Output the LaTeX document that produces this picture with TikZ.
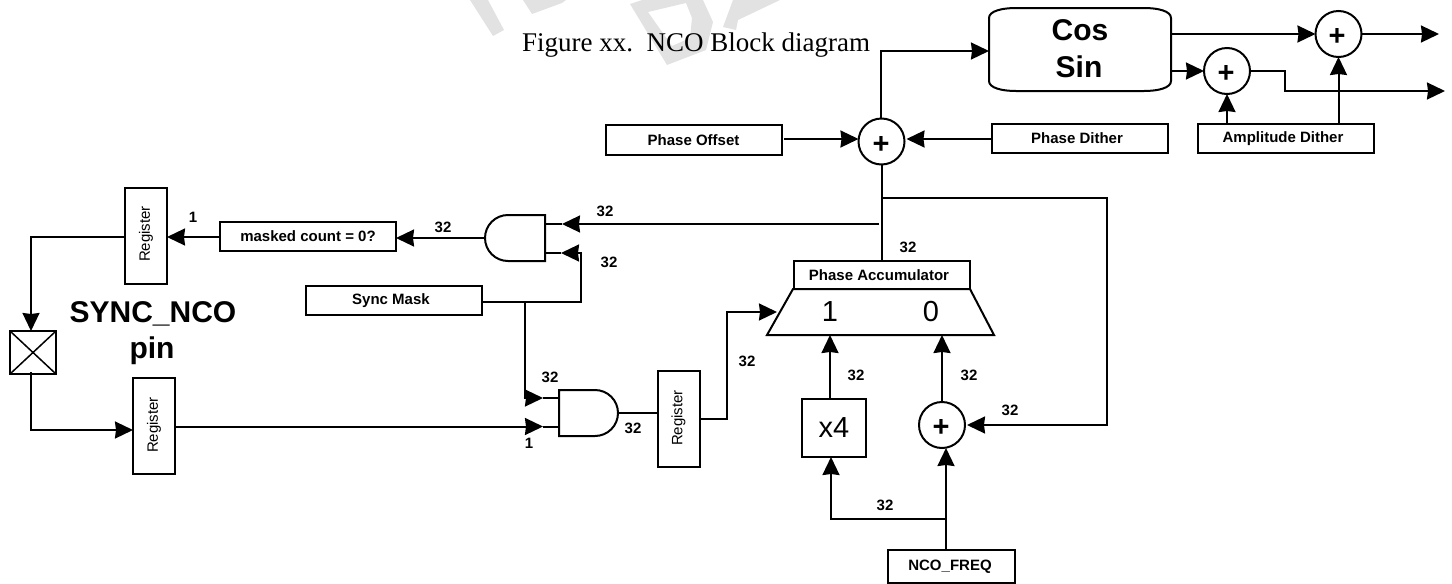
\documentclass[tikz,border=0pt]{standalone}
\usepackage{fontspec}
\setmainfont{Liberation Sans}
\newfontfamily\serifcap{Liberation Serif}
\usetikzlibrary{arrows.meta,calc}
\definecolor{wm}{HTML}{E2E2E2}
\tikzset{
  wire/.style={line width=2pt,line join=miter},
  arr/.style={wire,-{Stealth[length=18pt,width=17pt,inset=1pt]}},
  blk/.style={draw,line width=2pt,inner sep=0pt,outer sep=0pt,align=center,fill=white},
  ghost/.style={inner sep=0pt,outer sep=0pt},
  tag/.style={blk,font=\fontsize{15}{18}\selectfont\bfseries},
  reg/.style={blk,minimum width=42pt,minimum height=96pt},
  sum/.style={blk,circle,minimum size=46pt},
  bits/.style={inner sep=0pt,font=\fontsize{15}{18}\selectfont\bfseries},
  big/.style={inner sep=0pt,align=center,font=\fontsize{30}{37}\selectfont\bfseries},
  huge/.style={inner sep=0pt,font=\fontsize{29}{34}\selectfont},
  plus/.style={inner sep=0pt,font=\fontsize{29}{34}\selectfont\bfseries},
}
\begin{document}
\begin{tikzpicture}[x=1pt,y=-1pt]
\useasboundingbox (0,0) rectangle (1452,584);
% watermark fragments
\fill[wm] (470,0) -- (488,0) -- (504,30) -- (493,36) -- cycle;
\fill[wm] (523,0) -- (566,0) -- (562,3) -- (532,14) -- cycle;
\fill[wm,even odd rule] (630,4) -- (642,0) -- (703,0) -- (713,22) -- (706,50) -- (667,65) -- cycle
  (648,12) -- (686,3) -- (692,18) -- (690,38) -- (672,46) -- cycle;
\fill[wm] (723,27) -- (733,0) -- (780,0) -- (738,20) -- (736,30) -- cycle;
% caption
\node[inner sep=0pt,anchor=base west,font=\fontsize{27}{32}\selectfont\serifcap] (cap) at (522,51) {Figure xx.\ \ NCO Block diagram};
% blocks
\node[tag,minimum width=176pt,minimum height=30pt] (offs) at (694,140) {Phase Offset\kern1pt};
\node[tag,minimum width=176pt,minimum height=29pt] (pdith) at (1080,138.5) {Phase Dither\kern6pt};
\node[tag,minimum width=176pt,minimum height=29pt] (adith) at (1286,138.5) {Amplitude Dither\kern6pt};
\node[tag,minimum width=176pt,minimum height=29pt] (masked) at (308,236.5) {masked count = 0?};
\node[tag,minimum width=176pt,minimum height=29pt] (smask) at (394,300.5) {Sync Mask\kern6pt};
\node[tag,minimum width=176pt,minimum height=28pt] (acc) at (882,275) {Phase Accumulator\kern6pt};
\node[tag,minimum width=127pt,minimum height=33pt] (freq) at (951.5,566.5) {NCO\_FREQ\kern3pt};
\node[reg] (reg1) at (146,235.5) {};
\node[reg] (reg2) at (154,426) {};
\node[reg] (reg3) at (678.5,418.5) {};
\node[ghost,rotate=90,font=\fontsize{15}{18}\selectfont] (reg1t) at (146,234) {Register};
\node[ghost,rotate=90,font=\fontsize{15}{18}\selectfont] (reg2t) at (154,425) {Register};
\node[ghost,rotate=90,font=\fontsize{15}{18}\selectfont] (reg3t) at (678.5,418) {Register};
\node[blk,minimum width=64pt,minimum height=58pt,font=\fontsize{29}{34}\selectfont] (x4) at (834,428) {x4};
% sums
\node[sum] (s0) at (881.5,141.5) {};
\node[sum] (s1) at (1227,71) {};
\node[sum] (s2) at (1338.5,34) {};
\node[sum] (s3) at (942,425) {};
\node[plus] (p0) at (881,145) {+};
\node[plus] (p1) at (1226,74) {+};
\node[plus] (p2) at (1337,37) {+};
\node[plus] (p3) at (941,428) {+};
% Cos Sin block
\node[ghost,minimum width=182pt,minimum height=83pt] (cs) at (1080,49.5) {};
\draw[line width=2pt,fill=white] (989,18) .. controls (989,11) and (1002,8) .. (1016,8)
  -- (1144,8) .. controls (1158,8) and (1171,11) .. (1171,18)
  -- (1171,81) .. controls (1171,88) and (1158,91) .. (1144,91)
  -- (1016,91) .. controls (1002,91) and (989,88) .. (989,81) -- cycle;
\node[big] (cos) at (1080,30) {Cos};
\node[big] (sin) at (1079,67) {Sin};
% multiplexer
\node[ghost,minimum width=227pt,minimum height=46pt] (mux) at (880.5,312) {};
\draw[line width=2pt,line join=miter] (793,289) -- (970,289) -- (mux.south east) -- (mux.south west) -- cycle;
\node[huge] (m1) at (830,312) {1};
\node[huge] (m0) at (931,312) {0};
% AND gates
\node[ghost,minimum width=60pt,minimum height=46pt] (and1) at (515,238) {};
\draw[line width=2pt] (and1.north east) -- (and1.south east) -- (508,261) arc[start angle=90,end angle=270,x radius=23,y radius=23] -- cycle;
\node[ghost,minimum width=59pt,minimum height=46pt] (and2) at (588.5,413) {};
\draw[line width=2pt] (and2.south west) -- (and2.north west) -- (595,390) arc[start angle=270,end angle=450,x radius=23,y radius=23] -- cycle;
% pin
\node[blk,minimum width=46pt,minimum height=43pt] (pad) at (33,352.5) {};
\draw[line width=1.5pt] (pad.north west) -- (pad.south east) (pad.south west) -- (pad.north east);
\node[big] (pinname) at (153,314) {SYNC\_NCO};
\node[big] (pinword) at (152,351) {pin};
% routing points
\coordinate (fbtop) at (882,198);
\coordinate (fbright) at (1107,198);
\coordinate (smj) at (581,302);
\coordinate (smb) at (524.5,302);
\coordinate (fj) at (946,519);
\coordinate (in1tip) at (562,224);
\coordinate (in2tip) at (561,253);
\coordinate (in3tip) at (543,398);
\coordinate (in4tip) at (543,426.5);
% connectors
\draw[arr] (masked.west |- 0,237) -- (reg1.east |- 0,237);
\draw[wire] (reg1.west |- 0,237) -| (31,310);
\draw[arr] (31,300) -- (pad.north -| 31,0);
\draw[wire] (31,372) -- (31,430);
\draw[arr] (30,430) -- (reg2.west |- 0,430);
\draw[arr] (reg2.east |- in4tip) -- (in4tip);
\draw[wire] (in4tip) -- (and2.west |- in4tip);
\draw[arr] (and1.west) -- (masked.east |- and1.west);
\draw[arr] (879,224) -- (in1tip);
\draw[wire] (in1tip) -- (and1.east |- in1tip);
\draw[wire] (smask.east |- smj) -- (smj) -- (smj |- in2tip);
\draw[arr] ([xshift=1pt]smj |- in2tip) -- (in2tip);
\draw[wire] (in2tip) -- (and1.east |- in2tip);
\draw[wire] (smb) -- (smb |- in3tip);
\draw[arr] ([xshift=-1pt]smb |- in3tip) -- (in3tip);
\draw[wire] (in3tip) -- (and2.west |- in3tip);
\draw[wire] (and2.east) -- (reg3.west |- and2.east);
\draw[wire] (reg3.east) -- (727,418.5) -- (727,312);
\draw[arr] (726,312) -- (777,312);
% top section
\draw[wire] (s0.south -| fbtop) -- (acc.north -| fbtop);
\draw[wire] (fbtop) -- (fbright) -- (fbright |- s3.east);
\draw[arr] ([xshift=1pt]fbright |- s3.east) -- ([xshift=2pt]s3.east);
\draw[arr] ([xshift=2pt]offs.east |- 0,139) -- (s0.west |- 0,139);
\draw[arr] (pdith.west |- 0,139) -- ([xshift=2pt]s0.east |- 0,139);
\draw[wire] (s0.north -| 881,0) -- (881,51);
\draw[arr] (880,51) -- (cs.west |- 0,51);
\draw[arr] (cs.east |- s2.west) -- (s2.west);
\draw[arr] (s2.east) -- (1439,34);
\draw[arr] (cs.east |- s1.west) -- (s1.west);
\draw[wire] (s1.east) -- (1285,71) -- (1285,91);
\draw[arr] (1284,91) -- (1445,91);
\draw[arr] (s1.south |- adith.north) -- (s1.south);
\draw[arr] (s2.south |- adith.north) -- (s2.south);
% lower section
\draw[arr] (x4.north -| m1) -- (m1 |- mux.south);
\draw[arr] (s3.north) -- (s3.north |- mux.south);
\draw[arr] (fj) -- (fj |- s3.south);
\draw[wire] (freq.north -| fj) -- (fj);
\draw[wire] (fj) -- (831,519);
\draw[arr] (831,520) -- (x4.south -| 831,0);
% width labels
\node[bits] (b1) at (193,217) {1};
\node[bits] (b2) at (443,227) {32};
\node[bits] (b3) at (605,211) {32};
\node[bits] (b4) at (609,262) {32};
\node[bits] (b5) at (550,377) {32};
\node[bits] (b6) at (529,443) {1};
\node[bits] (b7) at (633,428) {32};
\node[bits] (b8) at (747,361) {32};
\node[bits] (b9) at (908,247) {32};
\node[bits] (b10) at (856,375) {32};
\node[bits] (b11) at (969,375) {32};
\node[bits] (b12) at (1010,410) {32};
\node[bits] (b13) at (885,505) {32};
\end{tikzpicture}
\end{document}
